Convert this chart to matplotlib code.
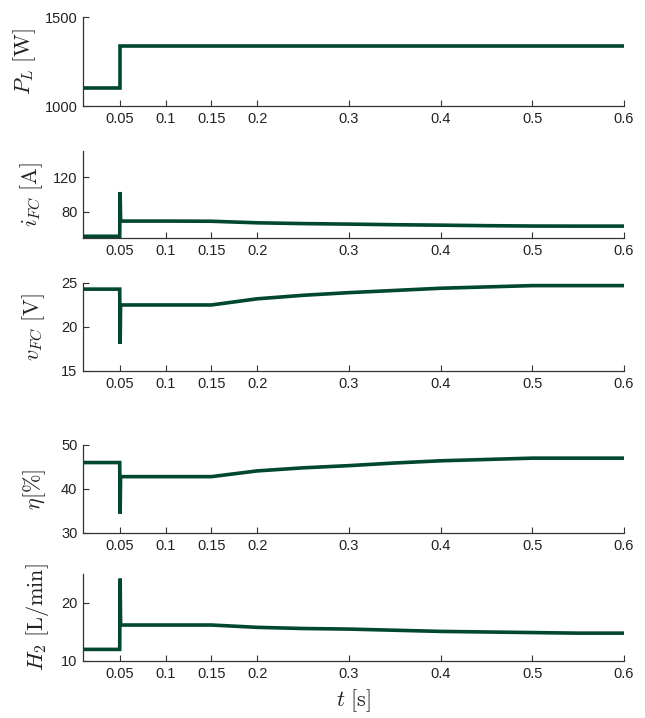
import matplotlib
matplotlib.use('Agg')
import matplotlib.pyplot as plt

# Data (time in s)
t_pl = [0.01, 0.05, 0.05, 0.6]
p_load = [1100, 1100, 1340, 1340]

t_dyn = [0.01, 0.05, 0.0505, 0.051, 0.1, 0.15, 0.2, 0.25, 0.3, 0.35, 0.4, 0.45, 0.5, 0.55, 0.6]
i_fc = [52, 52, 103, 69.5, 69.5, 69.3, 67.5, 66.6, 66.0, 65.3, 64.8, 64.2, 63.8, 63.7, 63.7]
v_fc = [24.3, 24.3, 18.1, 22.5, 22.5, 22.5, 23.2, 23.6, 23.9, 24.15, 24.4, 24.55, 24.7, 24.7, 24.7]
eta = [46.0, 46.0, 34.4, 42.8, 42.8, 42.8, 44.1, 44.8, 45.3, 45.9, 46.4, 46.7, 47.0, 47.0, 47.0]
h2 = [12.0, 12.0, 24.2, 16.2, 16.2, 16.2, 15.8, 15.6, 15.5, 15.3, 15.1, 15.0, 14.9, 14.8, 14.8]

x_ticks = [0.05, 0.1, 0.15, 0.2, 0.3, 0.4, 0.5, 0.6]
x_tick_labels = ['0.05', '0.1', '0.15', '0.2', '0.3', '0.4', '0.5', '0.6']

panels = [
    {"t": t_pl, "y": p_load, "ylim": (1000, 1500), "yticks": [1000, 1500],
     "label": r'$P_L\ [\mathrm{W}]$', "rect": [0.1287, 0.852, 0.8388, 0.124], "lx": -0.083},
    {"t": t_dyn, "y": i_fc, "ylim": (50, 150), "yticks": [80, 120],
     "label": r'$i_{FC}\ [\mathrm{A}]$', "rect": [0.1287, 0.6685, 0.8388, 0.121], "lx": -0.071},
    {"t": t_dyn, "y": v_fc, "ylim": (15, 25), "yticks": [15, 20, 25],
     "label": r'$v_{FC}\ [\mathrm{V}]$', "rect": [0.1287, 0.4833, 0.8388, 0.1226], "lx": -0.067},
    {"t": t_dyn, "y": eta, "ylim": (30, 50), "yticks": [30, 40, 50],
     "label": r'$\eta[\%]$', "rect": [0.1287, 0.2577, 0.8388, 0.1226], "lx": -0.065},
    {"t": t_dyn, "y": h2, "ylim": (10, 25), "yticks": [10, 20],
     "label": r'$H_2\ [\mathrm{L/min}]$', "rect": [0.1287, 0.0794, 0.8388, 0.1212], "lx": -0.060},
]

plt.rcParams['mathtext.fontset'] = 'cm'
plt.rcParams['font.family'] = ['Liberation Sans', 'DejaVu Sans']

line_color = '#00472f'
fig = plt.figure(figsize=(6.45, 7.18), dpi=100)

for p in panels:
    ax = fig.add_axes(p["rect"])
    ax.plot(p["t"], p["y"], color=line_color, lw=2.6, solid_joinstyle='miter')
    ax.set_xlim(0.01, 0.6)
    ax.set_ylim(*p["ylim"])
    ax.set_xticks(x_ticks)
    ax.set_xticklabels(x_tick_labels)
    ax.set_yticks(p["yticks"])
    for side in ['top', 'right']:
        ax.spines[side].set_visible(False)
    for side in ['left', 'bottom']:
        ax.spines[side].set_color('#333333')
        ax.spines[side].set_linewidth(0.9)
    ax.tick_params(direction='in', length=4, width=0.8, color='#333333',
                   labelsize=10.5, labelcolor='#222222', pad=4)
    ax.set_ylabel(p["label"], fontsize=16, color='#222222')
    ax.yaxis.set_label_coords(p["lx"], 0.5)

# x label sits under the last panel
fig.text(0.548, 1 - 701 / 718, r'$t\ [\mathrm{s}]$', fontsize=16, color='#222222',
         ha='center', va='center')

fig.savefig('out.png', dpi=100)
